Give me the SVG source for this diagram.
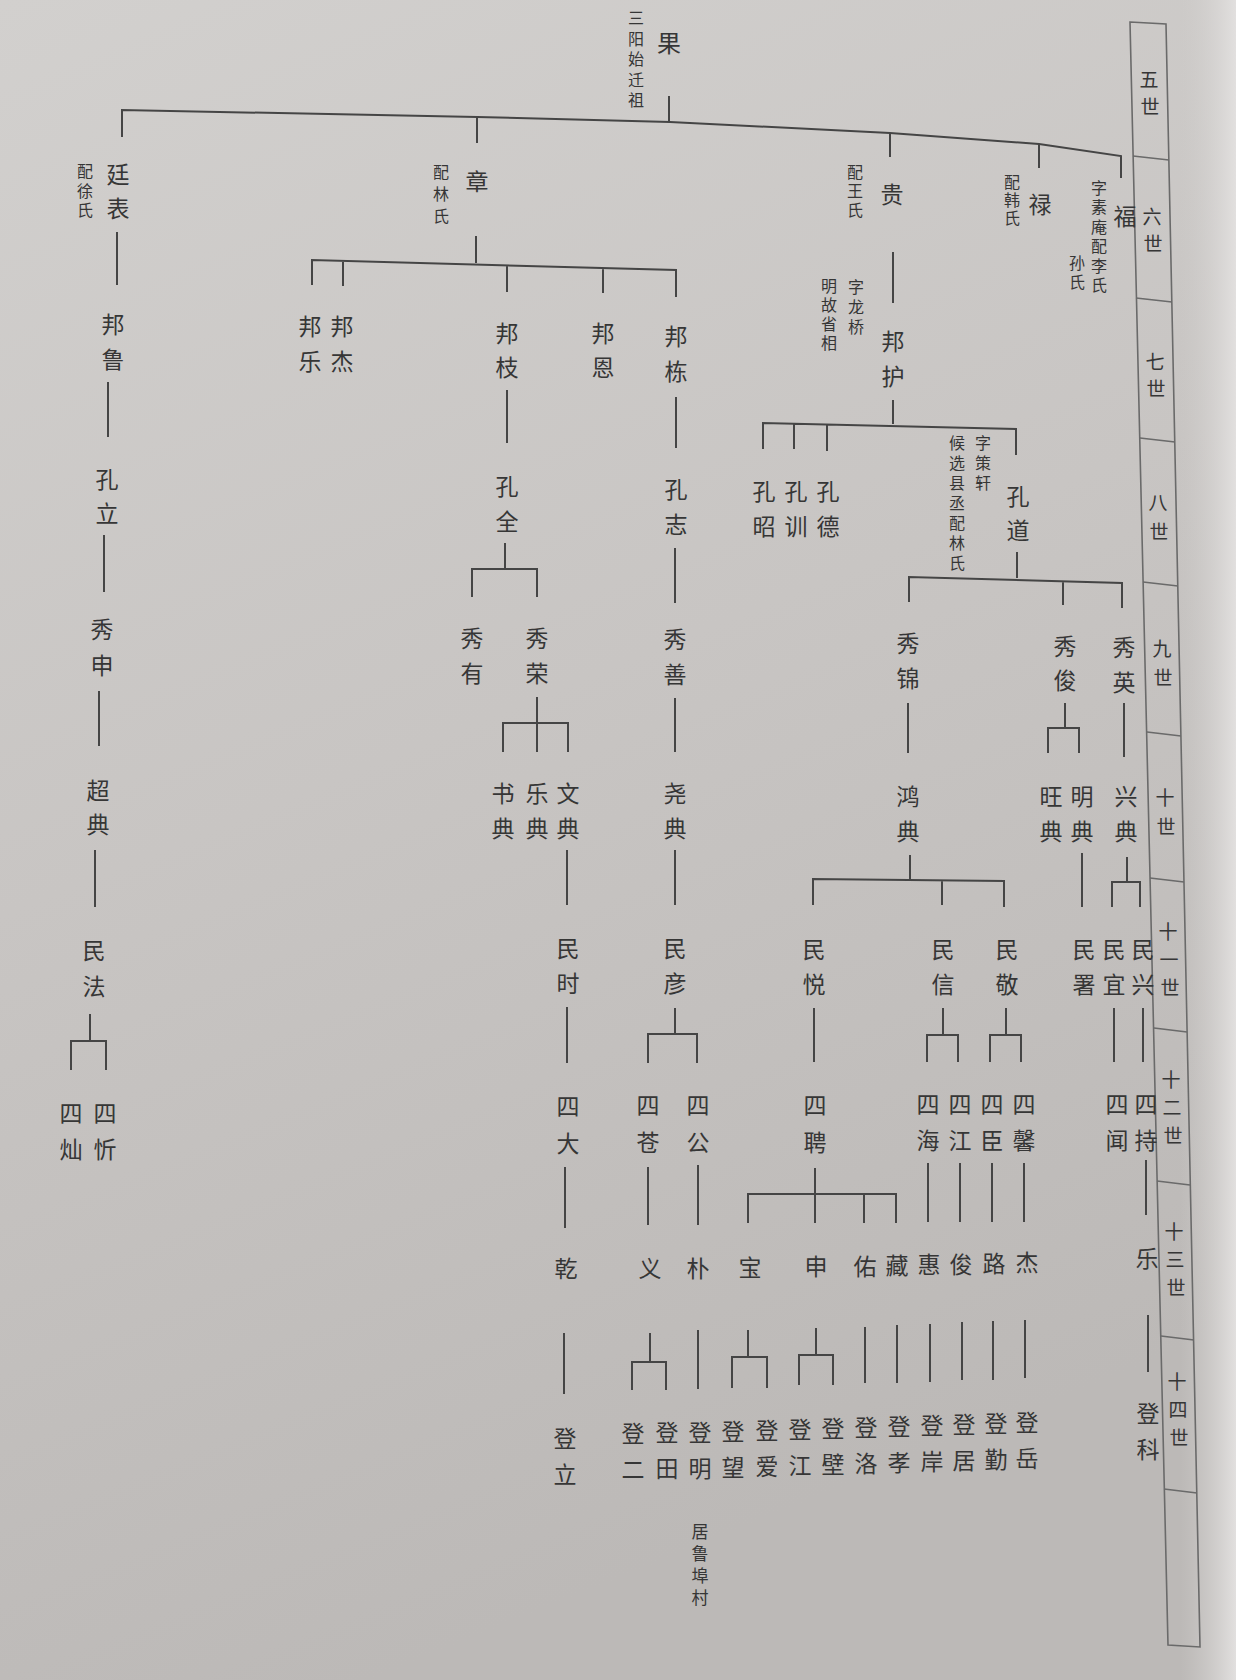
<svg xmlns="http://www.w3.org/2000/svg" width="1236" height="1680" viewBox="0 0 1236 1680">
<defs>
<linearGradient id="bg" x1="0" y1="0" x2="0.3" y2="1">
<stop offset="0" stop-color="#d2d0ce"/>
<stop offset="0.5" stop-color="#c8c5c3"/>
<stop offset="1" stop-color="#bcb9b7"/>
</linearGradient>
<linearGradient id="edge" x1="0" y1="0" x2="1" y2="0">
<stop offset="0" stop-color="#cfcdcb" stop-opacity="0"/>
<stop offset="1" stop-color="#e2e0df"/>
</linearGradient>
<style>
text{font-family:"Noto Sans CJK SC","Noto Sans CJK TC",sans-serif;fill:#363636;text-anchor:middle;dominant-baseline:central}
.m{font-size:23px}
.v{font-size:16px;writing-mode:vertical-rl;text-anchor:start}
.t{font-size:17px}
.g{font-size:19px}
.c path{stroke:#454545;stroke-width:2;fill:none}
.box{stroke:#6a6a6a;stroke-width:1.6;fill:none}
</style>
</defs>
<rect width="1236" height="1680" fill="url(#bg)"/>
<rect x="1180" y="0" width="56" height="1680" fill="url(#edge)"/>

<g id="gen-column">
<path class="box" d="M1130 22 L1166 24 L1200 1647 L1168 1645 Z"/>
<path class="box" d="M1133 156 L1169 160 M1136 298 L1172 302 M1140 438 L1175 442 M1143 582 L1178 586 M1147 732 L1181 736 M1150 878 L1184 882 M1154 1028 L1187 1032 M1157 1181 L1190 1185 M1161 1336 L1194 1340 M1164 1489 L1197 1493"/>
<text class="g"><tspan x="1149" y="78">五</tspan><tspan x="1150" y="105">世</tspan></text>
<text class="g"><tspan x="1152" y="215">六</tspan><tspan x="1153" y="242">世</tspan></text>
<text class="g"><tspan x="1155" y="360">七</tspan><tspan x="1156" y="387">世</tspan></text>
<text class="g"><tspan x="1158" y="501">八</tspan><tspan x="1159" y="530">世</tspan></text>
<text class="g"><tspan x="1162" y="647">九</tspan><tspan x="1163" y="676">世</tspan></text>
<text class="g"><tspan x="1165" y="796">十</tspan><tspan x="1166" y="825">世</tspan></text>
<text class="g"><tspan x="1168" y="930">十</tspan><tspan x="1169" y="958">一</tspan><tspan x="1170" y="986">世</tspan></text>
<text class="g"><tspan x="1171" y="1078">十</tspan><tspan x="1172" y="1106">二</tspan><tspan x="1173" y="1134">世</tspan></text>
<text class="g"><tspan x="1174" y="1230">十</tspan><tspan x="1175" y="1258">三</tspan><tspan x="1176" y="1286">世</tspan></text>
<text class="g"><tspan x="1177" y="1380">十</tspan><tspan x="1178" y="1408">四</tspan><tspan x="1179" y="1436">世</tspan></text>
</g>

<g class="c" id="connectors">
<path d="M669 96 V122"/>
<path d="M122 137 V110 L477 117 L670 122 L890 133 L1039 144 L1121 156 V178"/>
<path d="M477 117 V143 M890 133 V157 M1039 144 V168"/>
<path d="M117 232 V285 M108 382 V437 M104 535 V592 M99 691 V746 M95 850 V907"/>
<path d="M90 1014 V1041 M71 1070 V1041 H106 V1070"/>
<path d="M476 236 V263"/>
<path d="M312 285 V260 L676 270 V297 M343 261 V286 M507 265 V292 M603 268 V293"/>
<path d="M507 390 V443 M505 543 V569 M472 597 V569 H537 V597"/>
<path d="M676 397 V448 M675 548 V603"/>
<path d="M537 697 V752 M503 752 V723 H568 V752"/>
<path d="M675 698 V752 M675 850 V905 M567 850 V905 M567 1007 V1063"/>
<path d="M675 1008 V1034 M648 1063 V1034 H697 V1063"/>
<path d="M565 1167 V1228 M648 1167 V1225 M698 1165 V1225"/>
<path d="M564 1333 V1394"/>
<path d="M650 1333 V1362 M632 1390 V1362 H666 V1390"/>
<path d="M698 1330 V1389"/>
<path d="M748 1330 V1357 M732 1388 V1357 H767 V1388"/>
<path d="M816 1328 V1355 M799 1385 V1355 H833 V1385"/>
<path d="M865 1327 V1383 M897 1325 V1383 M930 1324 V1382 M962 1322 V1380 M993 1321 V1380 M1025 1320 V1378"/>
<path d="M893 252 V303"/>
<path d="M893 400 V424 M763 449 V423 L1016 429 V455 M794 424 V449 M827 425 V451"/>
<path d="M1017 552 V578 M909 602 V577 L1122 583 V608 M1063 581 V605"/>
<path d="M908 703 V753 M910 855 V880 M813 905 V879 L1004 881 V907 M942 880 V905"/>
<path d="M1065 703 V728 M1048 753 V728 H1079 V753"/>
<path d="M1124 703 V757 M1082 853 V907 M1127 857 V882 M1112 907 V882 H1140 V907"/>
<path d="M814 1008 V1062 M943 1008 V1035 M927 1062 V1035 H958 V1062 M1006 1008 V1035 M990 1062 V1035 H1021 V1062 M1114 1008 V1062 M1143 1008 V1062"/>
<path d="M928 1163 V1222 M960 1163 V1222 M992 1163 V1222 M1024 1163 V1222"/>
<path d="M815 1168 V1223 M748 1223 V1194 H896 V1223 M864 1194 V1223"/>
<path d="M1146 1160 V1215 M1148 1315 V1372"/>
</g>

<g id="n-guo"><text style="font-size:24px" x="669" y="41">果</text>
<text class="v" x="636" y="10" letter-spacing="4.5">三阳始迁祖</text></g>

<g id="n-tingbiao"><text class="m"><tspan x="118" y="173">廷</tspan><tspan x="118" y="207">表</tspan></text>
<text class="v" x="85" y="163" letter-spacing="3.5">配徐氏</text></g>
<g id="n-zhang"><text class="m" x="477" y="180">章</text>
<text class="v" x="441" y="164" letter-spacing="6">配林氏</text></g>
<g id="n-gui"><text class="m" x="892" y="193">贵</text>
<text class="v" x="855" y="164" letter-spacing="3">配王氏</text></g>
<g id="n-lu"><text class="m" x="1040" y="203">禄</text>
<text class="v" x="1012" y="174" letter-spacing="2">配韩氏</text></g>
<g id="n-fu"><text class="m" x="1125" y="215">福</text>
<text class="v" x="1099" y="180" letter-spacing="3.4">字素庵配李氏</text>
<text class="v" x="1077" y="255" letter-spacing="3">孙氏</text></g>

<g id="n-banglu"><text class="m"><tspan x="113" y="323">邦</tspan><tspan x="113" y="358">鲁</tspan></text></g>
<g id="n-bangle"><text class="m"><tspan x="310" y="325">邦</tspan><tspan x="310" y="360">乐</tspan></text></g>
<g id="n-bangjie"><text class="m"><tspan x="342" y="325">邦</tspan><tspan x="342" y="360">杰</tspan></text></g>
<g id="n-bangzhi"><text class="m"><tspan x="507" y="332">邦</tspan><tspan x="507" y="366">枝</tspan></text></g>
<g id="n-bangen"><text class="m"><tspan x="603" y="332">邦</tspan><tspan x="603" y="366">恩</tspan></text></g>
<g id="n-bangdong"><text class="m"><tspan x="676" y="335">邦</tspan><tspan x="676" y="370">栋</tspan></text></g>
<g id="n-banghu"><text class="m"><tspan x="893" y="340">邦</tspan><tspan x="893" y="375">护</tspan></text>
<text class="v" x="856" y="279" letter-spacing="4">字龙桥</text>
<text class="v" x="829" y="278" letter-spacing="3">明故省相</text></g>

<g id="n-kongli"><text class="m"><tspan x="107" y="478">孔</tspan><tspan x="107" y="512">立</tspan></text></g>
<g id="n-kongquan"><text class="m"><tspan x="507" y="485">孔</tspan><tspan x="507" y="520">全</tspan></text></g>
<g id="n-kongzhi"><text class="m"><tspan x="676" y="488">孔</tspan><tspan x="676" y="523">志</tspan></text></g>
<g id="n-kongzhao"><text class="m"><tspan x="764" y="490">孔</tspan><tspan x="764" y="525">昭</tspan></text></g>
<g id="n-kongxun"><text class="m"><tspan x="796" y="490">孔</tspan><tspan x="796" y="525">训</tspan></text></g>
<g id="n-kongde"><text class="m"><tspan x="828" y="490">孔</tspan><tspan x="828" y="525">德</tspan></text></g>
<g id="n-kongdao"><text class="m"><tspan x="1018" y="495">孔</tspan><tspan x="1018" y="529">道</tspan></text>
<text class="v" x="983" y="435" letter-spacing="4">字策轩</text>
<text class="v" x="957" y="435" letter-spacing="4">候选县丞配林氏</text></g>

<g id="n-xiushen"><text class="m"><tspan x="102" y="628">秀</tspan><tspan x="102" y="664">申</tspan></text></g>
<g id="n-xiuyou"><text class="m"><tspan x="472" y="637">秀</tspan><tspan x="472" y="672">有</tspan></text></g>
<g id="n-xiurong"><text class="m"><tspan x="537" y="637">秀</tspan><tspan x="537" y="672">荣</tspan></text></g>
<g id="n-xiushan"><text class="m"><tspan x="675" y="638">秀</tspan><tspan x="675" y="673">善</tspan></text></g>
<g id="n-xiujin"><text class="m"><tspan x="908" y="642">秀</tspan><tspan x="908" y="677">锦</tspan></text></g>
<g id="n-xiujun"><text class="m"><tspan x="1065" y="645">秀</tspan><tspan x="1065" y="679">俊</tspan></text></g>
<g id="n-xiuying"><text class="m"><tspan x="1124" y="646">秀</tspan><tspan x="1124" y="681">英</tspan></text></g>

<g id="n-chaodian"><text class="m"><tspan x="98" y="789">超</tspan><tspan x="98" y="823">典</tspan></text></g>
<g id="n-shudian"><text class="m"><tspan x="503" y="792">书</tspan><tspan x="503" y="827">典</tspan></text></g>
<g id="n-yuedian"><text class="m"><tspan x="537" y="792">乐</tspan><tspan x="537" y="827">典</tspan></text></g>
<g id="n-wendian"><text class="m"><tspan x="568" y="792">文</tspan><tspan x="568" y="827">典</tspan></text></g>
<g id="n-yaodian"><text class="m"><tspan x="675" y="792">尧</tspan><tspan x="675" y="827">典</tspan></text></g>
<g id="n-hongdian"><text class="m"><tspan x="908" y="795">鸿</tspan><tspan x="908" y="830">典</tspan></text></g>
<g id="n-wangdian"><text class="m"><tspan x="1051" y="795">旺</tspan><tspan x="1051" y="830">典</tspan></text></g>
<g id="n-mingdian"><text class="m"><tspan x="1082" y="795">明</tspan><tspan x="1082" y="830">典</tspan></text></g>
<g id="n-xingdian"><text class="m"><tspan x="1126" y="795">兴</tspan><tspan x="1126" y="830">典</tspan></text></g>

<g id="n-minfa"><text class="m"><tspan x="94" y="949">民</tspan><tspan x="94" y="985">法</tspan></text></g>
<g id="n-minshi"><text class="m"><tspan x="568" y="947">民</tspan><tspan x="568" y="982">时</tspan></text></g>
<g id="n-minyan"><text class="m"><tspan x="675" y="947">民</tspan><tspan x="675" y="982">彦</tspan></text></g>
<g id="n-minyue"><text class="m"><tspan x="814" y="948">民</tspan><tspan x="814" y="983">悦</tspan></text></g>
<g id="n-minxin"><text class="m"><tspan x="943" y="948">民</tspan><tspan x="943" y="983">信</tspan></text></g>
<g id="n-minjing"><text class="m"><tspan x="1007" y="948">民</tspan><tspan x="1007" y="983">敬</tspan></text></g>
<g id="n-minshu"><text class="m"><tspan x="1084" y="948">民</tspan><tspan x="1084" y="983">署</tspan></text></g>
<g id="n-minyi"><text class="m"><tspan x="1114" y="948">民</tspan><tspan x="1114" y="983">宜</tspan></text></g>
<g id="n-minxing"><text class="m"><tspan x="1143" y="948">民</tspan><tspan x="1143" y="983">兴</tspan></text></g>

<g id="n-sican"><text class="m"><tspan x="71" y="1112">四</tspan><tspan x="71" y="1148">灿</tspan></text></g>
<g id="n-sixin"><text class="m"><tspan x="105" y="1112">四</tspan><tspan x="105" y="1148">忻</tspan></text></g>
<g id="n-sida"><text class="m"><tspan x="568" y="1105">四</tspan><tspan x="568" y="1142">大</tspan></text></g>
<g id="n-sicang"><text class="m"><tspan x="648" y="1104">四</tspan><tspan x="648" y="1141">苍</tspan></text></g>
<g id="n-sigong"><text class="m"><tspan x="698" y="1104">四</tspan><tspan x="698" y="1141">公</tspan></text></g>
<g id="n-siping"><text class="m"><tspan x="815" y="1104">四</tspan><tspan x="815" y="1141">聘</tspan></text></g>
<g id="n-sihai"><text class="m"><tspan x="928" y="1103">四</tspan><tspan x="928" y="1139">海</tspan></text></g>
<g id="n-sijiang"><text class="m"><tspan x="960" y="1103">四</tspan><tspan x="960" y="1139">江</tspan></text></g>
<g id="n-sichen"><text class="m"><tspan x="992" y="1103">四</tspan><tspan x="992" y="1139">臣</tspan></text></g>
<g id="n-sixinx"><text class="m"><tspan x="1024" y="1103">四</tspan><tspan x="1024" y="1139">馨</tspan></text></g>
<g id="n-siwen"><text class="m"><tspan x="1117" y="1103">四</tspan><tspan x="1117" y="1139">闻</tspan></text></g>
<g id="n-sichi"><text class="m"><tspan x="1146" y="1103">四</tspan><tspan x="1146" y="1139">持</tspan></text></g>

<g id="n-qian"><text class="m" x="566" y="1267">乾</text></g>
<g id="n-yi"><text class="m" x="650" y="1267">义</text></g>
<g id="n-pu"><text class="m" x="698" y="1267">朴</text></g>
<g id="n-bao"><text class="m" x="750" y="1266">宝</text></g>
<g id="n-shen"><text class="m" x="816" y="1265">申</text></g>
<g id="n-you"><text class="m" x="865" y="1265">佑</text></g>
<g id="n-cang"><text class="m" x="897" y="1264">藏</text></g>
<g id="n-hui"><text class="m" x="929" y="1263">惠</text></g>
<g id="n-jun"><text class="m" x="961" y="1263">俊</text></g>
<g id="n-lux"><text class="m" x="994" y="1262">路</text></g>
<g id="n-jie"><text class="m" x="1027" y="1261">杰</text></g>
<g id="n-le"><text class="m" x="1147" y="1257">乐</text></g>

<g id="n-dengli"><text class="m"><tspan x="565" y="1437">登</tspan><tspan x="565" y="1473">立</tspan></text></g>
<g id="n-denger"><text class="m"><tspan x="633" y="1432">登</tspan><tspan x="633" y="1468">二</tspan></text></g>
<g id="n-dengtian"><text class="m"><tspan x="667" y="1431">登</tspan><tspan x="667" y="1467">田</tspan></text></g>
<g id="n-dengming"><text class="m"><tspan x="700" y="1431">登</tspan><tspan x="700" y="1467">明</tspan></text>
<text class="v" style="font-size:17px" x="700" y="1523.5" letter-spacing="5">居鲁埠村</text></g>
<g id="n-dengwang"><text class="m"><tspan x="733" y="1430">登</tspan><tspan x="733" y="1466">望</tspan></text></g>
<g id="n-dengai"><text class="m"><tspan x="767" y="1429">登</tspan><tspan x="767" y="1465">爱</tspan></text></g>
<g id="n-dengjiang"><text class="m"><tspan x="800" y="1428">登</tspan><tspan x="800" y="1464">江</tspan></text></g>
<g id="n-dengbi"><text class="m"><tspan x="833" y="1427">登</tspan><tspan x="833" y="1463">壁</tspan></text></g>
<g id="n-dengluo"><text class="m"><tspan x="866" y="1426">登</tspan><tspan x="866" y="1462">洛</tspan></text></g>
<g id="n-dengxiao"><text class="m"><tspan x="899" y="1425">登</tspan><tspan x="899" y="1461">孝</tspan></text></g>
<g id="n-dengan"><text class="m"><tspan x="932" y="1424">登</tspan><tspan x="932" y="1460">岸</tspan></text></g>
<g id="n-dengju"><text class="m"><tspan x="964" y="1423">登</tspan><tspan x="964" y="1459">居</tspan></text></g>
<g id="n-dengqin"><text class="m"><tspan x="996" y="1422">登</tspan><tspan x="996" y="1458">勤</tspan></text></g>
<g id="n-dengyue"><text class="m"><tspan x="1027" y="1421">登</tspan><tspan x="1027" y="1457">岳</tspan></text></g>
<g id="n-dengke"><text class="m"><tspan x="1148" y="1412">登</tspan><tspan x="1148" y="1448">科</tspan></text></g>
</svg>
